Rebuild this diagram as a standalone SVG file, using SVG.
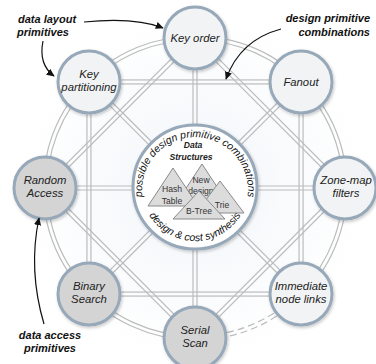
<svg xmlns="http://www.w3.org/2000/svg" width="376" height="364" viewBox="0 0 376 364">
<style>
text{font-family:"Liberation Sans",Arial,sans-serif;fill:#222}
.lbl{font-size:11.3px;font-style:italic;text-anchor:middle}
.ann{font-size:11px;font-style:italic;font-weight:bold;fill:#111}
.rd{fill:none;stroke:#bcbcbc;stroke-width:1.2}
.dash{stroke-dasharray:7 4}
.nl{fill:#f1f3f4;stroke:#97a8b9;stroke-width:3;filter:url(#sh)}
.ng{fill:#d4d4d4;stroke:#97a8b9;stroke-width:3;filter:url(#sh)}
.tri{fill:#dcdcdc;stroke:#8a8a8a;stroke-width:1}
.tl{font-size:8.6px;text-anchor:middle;fill:#333}
.arc{font-size:10.5px;font-style:italic;fill:#111}
.arr{fill:none;stroke:#111;stroke-width:1.2;marker-end:url(#ah)}
</style>
<defs>
<filter id="sh" x="-20%" y="-20%" width="140%" height="140%">
<feDropShadow dx="1" dy="1.5" stdDeviation="1.5" flood-color="#000" flood-opacity="0.22"/>
</filter>
<radialGradient id="bg" cx="195" cy="188" r="170" gradientUnits="userSpaceOnUse">
<stop offset="0" stop-color="#f1f5f9"/>
<stop offset="1" stop-color="#ffffff"/>
</radialGradient>
<marker id="ah" viewBox="0 0 10 10" refX="9" refY="5" markerWidth="8" markerHeight="8" markerUnits="userSpaceOnUse" orient="auto">
<path d="M0,0.5 L10,5 L0,9.5 z" fill="#111"/>
</marker>
<path id="topArc" d="M147.4,213.5 A53,53 0 1 1 242.6,213.5"/>
<path id="botArc" d="M142.2,196.2 A53.5,53.5 0 0 0 247.8,196.2"/>
</defs>
<rect width="376" height="364" fill="#fff"/>
<circle cx="195" cy="188" r="170" fill="url(#bg)"/>
<g id="connectors">
<path class="rd" d="M195,336 A148,148 0 1 1 299.65,292.65"/>
<path class="rd" d="M195,340 A152,152 0 1 1 302.48,295.48"/>
<path class="rd dash" d="M299.65,292.65 A148,148 0 0 1 195,336"/>
<path class="rd dash" d="M302.48,295.48 A152,152 0 0 1 195,340"/>
<rect class="rd" x="86.93" y="79.93" width="216.14" height="216.14"/>
<rect class="rd" x="90.93" y="83.93" width="208.14" height="208.14"/>
<polygon class="rd" points="195,35.17 347.83,188 195,340.83 42.17,188"/>
<polygon class="rd" points="195,40.83 342.17,188 195,335.17 47.83,188"/>
<line class="rd" x1="193" y1="38" x2="193" y2="338"/>
<line class="rd" x1="197" y1="38" x2="197" y2="338"/>
<line class="rd" x1="45" y1="186" x2="345" y2="186"/>
<line class="rd" x1="45" y1="190" x2="345" y2="190"/>
<line class="rd" x1="90.34" y1="80.52" x2="302.49" y2="292.66"/>
<line class="rd" x1="87.51" y1="83.34" x2="299.66" y2="295.49"/>
<line class="rd" x1="302.49" y1="83.34" x2="90.34" y2="295.49"/>
<line class="rd" x1="299.66" y1="80.52" x2="87.51" y2="292.66"/>
</g>
<g id="data-structures">
<circle cx="195" cy="187" r="62" fill="#fff" stroke="#97a8b9" stroke-width="3" filter="url(#sh)"/>
<text class="arc"><textPath href="#topArc" startOffset="50%" text-anchor="middle">possible design primitive combinations</textPath></text>
<text class="arc"><textPath href="#botArc" startOffset="50%" text-anchor="middle">design &amp; cost synthesis</textPath></text>
<text x="193" y="148" font-size="8.6" font-weight="bold" font-style="italic" text-anchor="middle" fill="#111">Data</text>
<text x="191" y="160" font-size="8.6" font-weight="bold" font-style="italic" text-anchor="middle" fill="#111">Structures</text>
<polygon class="tri" points="202,164 177,202 227,202"/>
<text class="tl" x="201" y="183">New</text>
<text class="tl" x="201" y="194">design</text>
<polygon class="tri" points="173,168 148,206 198,206"/>
<text class="tl" x="172" y="192">Hash</text>
<text class="tl" x="172" y="204">Table</text>
<polygon class="tri" points="220,181 196,213 244,213"/>
<text class="tl" x="222" y="208">Trie</text>
<polygon class="tri" points="199,191 173,219 225,219"/>
<text class="tl" x="199" y="214">B-Tree</text>
</g>
<g id="key-order"><circle class="nl" cx="195" cy="38" r="31"/><text class="lbl" x="195" y="42">Key order</text></g>
<g id="fanout"><circle class="nl" cx="301" cy="82" r="31"/><text class="lbl" x="301" y="86">Fanout</text></g>
<g id="zone-map-filters"><circle class="nl" cx="345" cy="188" r="31"/><text class="lbl" x="346" y="184">Zone-map</text><text class="lbl" x="346" y="197">filters</text></g>
<g id="immediate-node-links"><circle class="nl" cx="301" cy="294" r="31"/><text class="lbl" x="301" y="290">Immediate</text><text class="lbl" x="301" y="303">node links</text></g>
<g id="serial-scan"><circle class="ng" cx="195" cy="338" r="31"/><text class="lbl" x="195" y="334">Serial</text><text class="lbl" x="195" y="347">Scan</text></g>
<g id="binary-search"><circle class="ng" cx="89" cy="294" r="31"/><text class="lbl" x="89" y="290">Binary</text><text class="lbl" x="89" y="303">Search</text></g>
<g id="random-access"><circle class="ng" cx="45" cy="188" r="31"/><text class="lbl" x="45" y="184">Random</text><text class="lbl" x="45" y="197">Access</text></g>
<g id="key-partitioning"><circle class="nl" cx="89" cy="82" r="31"/><text class="lbl" x="89" y="78">Key</text><text class="lbl" x="89" y="91">partitioning</text></g>
<g id="annotations">
<text class="ann" x="18" y="23">data layout</text>
<text class="ann" x="17" y="36">primitives</text>
<text class="ann" x="370" y="22" text-anchor="end">design primitive</text>
<text class="ann" x="370" y="36" text-anchor="end">combinations</text>
<text class="ann" x="50" y="339" text-anchor="middle">data access</text>
<text class="ann" x="50" y="352" text-anchor="middle">primitives</text>
<path class="arr" d="M84,22 Q135,17 163,28"/>
<path class="arr" d="M43,41 C40,56 43,68 54,76"/>
<path class="arr" d="M281,29 Q240,40 226,79"/>
<path class="arr" d="M44,324 Q28,270 39,218"/>
</g>
</svg>
